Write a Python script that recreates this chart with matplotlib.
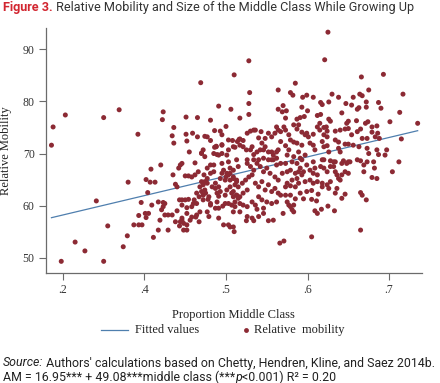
import matplotlib
matplotlib.use("Agg")
import matplotlib.pyplot as plt
from matplotlib.lines import Line2D

# --- data ---
mid_class = [
    # sparse left side
    0.286, 0.288, 0.303, 0.350, 0.369, 0.392, 0.298, 0.315, 0.327, 0.341, 0.350, 0.355, 0.374, 0.379, 0.380,
    # x .38-.46
    0.387, 0.393, 0.397, 0.393, 0.396, 0.401, 0.405, 0.402, 0.404, 0.402, 0.407, 0.413, 0.408, 0.411, 0.409,
    0.417, 0.419, 0.420, 0.421, 0.423, 0.425, 0.425, 0.429, 0.434, 0.429, 0.435, 0.438, 0.440, 0.438, 0.444,
    0.440, 0.442, 0.444, 0.446, 0.443, 0.446, 0.450, 0.454, 0.443, 0.446, 0.448, 0.450, 0.454, 0.452, 0.452,
    0.452, 0.455, 0.417, 0.423, 0.446, 0.446, 0.448, 0.456, 0.452,
    # upper left group
    0.422, 0.423, 0.436, 0.434, 0.436, 0.451, 0.451, 0.452, 0.459, 0.465, 0.465, 0.469, 0.470, 0.474, 0.477,
    0.481, 0.481, 0.486, 0.486, 0.488, 0.491, 0.489, 0.493, 0.495, 0.495, 0.500, 0.506, 0.510, 0.503, 0.508,
    0.511, 0.516, 0.503, 0.517,
    # x .45-.52
    0.458, 0.463, 0.458, 0.462, 0.460, 0.464, 0.461, 0.464, 0.462, 0.466, 0.468, 0.470, 0.474, 0.472, 0.477,
    0.470, 0.474, 0.472, 0.475, 0.470, 0.472, 0.474, 0.472, 0.478, 0.481, 0.479, 0.477, 0.481, 0.485, 0.481,
    0.485, 0.483, 0.487, 0.487, 0.485, 0.488, 0.491, 0.489, 0.491, 0.493, 0.491, 0.495, 0.495, 0.497, 0.499,
    0.501, 0.496, 0.499, 0.497, 0.501, 0.503, 0.501, 0.505, 0.507, 0.509, 0.513, 0.511, 0.515, 0.505, 0.509,
    0.510, 0.509, 0.505, 0.509, 0.513, 0.509, 0.514, 0.513, 0.515,
    0.467, 0.458, 0.464, 0.467, 0.468, 0.479, 0.481, 0.477, 0.473, 0.487, 0.491, 0.491, 0.489, 0.503, 0.499,
    0.503, 0.507, 0.511, 0.509, 0.513, 0.500, 0.503, 0.505, 0.509, 0.513, 0.511, 0.515, 0.493, 0.495, 0.495,
    0.505, 0.509, 0.477,
    # x .52-.57
    0.528, 0.564, 0.529, 0.528, 0.528, 0.564,
    0.517, 0.521, 0.526, 0.530, 0.534, 0.536, 0.540, 0.543, 0.548, 0.552, 0.556, 0.560, 0.564, 0.562,
    0.517, 0.521, 0.525, 0.530, 0.532, 0.534, 0.538, 0.542, 0.546, 0.544, 0.548, 0.552, 0.556, 0.558, 0.562,
    0.564, 0.562,
    0.526, 0.534, 0.540, 0.546, 0.552, 0.556,
    0.517, 0.521, 0.526, 0.532, 0.536, 0.517, 0.526, 0.532, 0.540, 0.546, 0.525, 0.534, 0.552, 0.558,
    0.517, 0.521, 0.526, 0.520, 0.524, 0.528, 0.532,
    0.526, 0.530, 0.534, 0.538, 0.542, 0.546, 0.550,
    0.536, 0.540, 0.544, 0.548, 0.552, 0.556, 0.560, 0.564,
    0.540, 0.544, 0.550, 0.556, 0.562,
    0.558, 0.562, 0.554, 0.560, 0.564,
    0.546, 0.538, 0.566,
    # x .57-.74, upper part
    0.625, 0.621, 0.666, 0.693, 0.585, 0.675, 0.717, 0.579, 0.582, 0.594, 0.599, 0.607, 0.630, 0.638, 0.616,
    0.618, 0.626, 0.647, 0.654, 0.656, 0.664, 0.667, 0.672, 0.663, 0.661, 0.672, 0.687, 0.690, 0.713,
    0.570, 0.574, 0.569, 0.593, 0.600,
    0.573, 0.587, 0.591, 0.596, 0.612, 0.616, 0.626, 0.628, 0.642, 0.650, 0.648, 0.660, 0.671, 0.674, 0.679,
    0.685, 0.701, 0.735,
    0.571, 0.573, 0.567, 0.583, 0.589, 0.587, 0.577, 0.579, 0.583, 0.593, 0.597, 0.599, 0.601, 0.607, 0.612,
    0.615, 0.615, 0.620, 0.623, 0.624, 0.620, 0.624, 0.634, 0.640, 0.646, 0.650, 0.654, 0.661, 0.665, 0.667,
    0.673, 0.679, 0.683, 0.686, 0.688, 0.715,
    0.567, 0.573, 0.577, 0.587, 0.593, 0.589, 0.603, 0.607, 0.609, 0.618, 0.620, 0.624, 0.626, 0.634, 0.638,
    0.638, 0.640, 0.646, 0.650, 0.656, 0.663, 0.673, 0.675, 0.685, 0.687, 0.697, 0.712, 0.695,
    0.575, 0.583, 0.591, 0.597, 0.618, 0.628, 0.632, 0.644, 0.650, 0.665, 0.673, 0.681,
    # x .57-.74, lower part
    0.665, 0.571, 0.605, 0.704, 0.669, 0.669, 0.679, 0.685, 0.682, 0.665, 0.667, 0.672, 0.642, 0.646, 0.634,
    0.636, 0.633, 0.625, 0.617, 0.609, 0.612, 0.611, 0.605, 0.595, 0.585, 0.570, 0.575, 0.577, 0.579, 0.583,
    0.581, 0.583, 0.591, 0.599, 0.605, 0.613, 0.567, 0.573, 0.579, 0.573, 0.579, 0.585, 0.618, 0.618, 0.624,
    0.626, 0.628, 0.607, 0.612, 0.603, 0.597, 0.575, 0.581, 0.587, 0.589,
    0.569, 0.575, 0.579, 0.585, 0.589, 0.591, 0.595, 0.593,
    0.567, 0.573, 0.581, 0.587, 0.593,
    0.603, 0.607, 0.612, 0.609, 0.616, 0.620, 0.624, 0.628, 0.632, 0.634, 0.636, 0.638, 0.642, 0.646, 0.650,
    0.640, 0.642, 0.648, 0.652, 0.634, 0.620, 0.607, 0.599, 0.661,
]
rel_mob = [
    71.6, 75.1, 77.4, 76.9, 78.4, 73.7, 49.3, 53.0, 51.3, 60.9, 49.3, 56.1, 52.1, 54.2, 64.5,
    56.3, 56.3, 56.3, 58.1, 60.6, 58.5, 58.5, 57.7, 62.5, 65.0, 64.5, 64.5, 67.0, 53.9, 60.1,
    55.3, 57.2, 67.8, 59.2, 59.8, 60.4, 58.2, 58.2, 58.2, 55.3, 65.9, 64.1, 63.6, 56.9, 56.9,
    59.0, 67.2, 67.8, 68.1, 61.1, 61.1, 61.1, 61.2, 56.1, 57.6, 55.3, 65.7, 65.7, 58.5, 59.6,
    56.3, 70.3, 60.7, 60.6, 60.1, 57.2, 56.6, 57.2, 55.3,
    76.5, 78.0, 75.0, 73.4, 72.0, 77.0, 73.7, 72.4, 73.9, 76.9, 73.2, 83.6, 70.1, 73.3, 73.2,
    72.5, 76.4, 74.4, 71.2, 71.4, 79.1, 69.8, 74.3, 73.6, 71.7, 75.2, 78.5, 85.1, 72.6, 72.5,
    71.2, 72.7, 70.7, 76.8,
    57.8, 57.8, 65.5, 65.9, 60.4, 60.4, 61.1, 62.4, 68.2, 66.5, 58.8, 64.6, 64.6, 64.0, 64.3,
    62.7, 63.0, 62.0, 62.4, 70.0, 70.7, 69.4, 61.1, 61.2, 60.4, 57.9, 67.2, 67.8, 67.8, 66.2,
    66.5, 63.6, 64.3, 59.5, 70.0, 71.3, 69.7, 62.4, 61.8, 62.7, 57.6, 71.6, 70.0, 66.8, 64.9,
    66.2, 59.9, 60.4, 56.3, 69.7, 68.4, 63.0, 63.6, 62.4, 61.7, 62.0, 60.7, 61.4, 55.9, 55.9,
    55.0, 58.8, 66.2, 65.5, 64.9, 71.3, 72.3, 68.8, 67.5,
    61.7, 59.8, 58.2, 56.9, 63.6, 61.7, 60.1, 65.2, 65.9, 63.3, 63.6, 59.5, 60.7, 56.3, 62.0,
    60.4, 60.1, 59.8, 62.7, 62.0, 65.5, 65.9, 64.9, 65.2, 64.6, 64.0, 63.6, 65.2, 66.2, 68.1,
    67.2, 66.8, 58.8,
    87.8, 82.2, 81.7, 79.6, 77.5, 78.5,
    72.8, 72.5, 73.9, 74.3, 74.5, 74.5, 73.0, 74.2, 72.9, 73.9, 73.2, 73.9, 74.5, 75.1,
    71.6, 71.3, 70.7, 70.7, 71.3, 69.8, 70.3, 70.7, 70.7, 72.0, 71.3, 70.3, 70.3, 69.7, 70.3,
    70.7, 69.1,
    68.8, 68.8, 68.8, 69.1, 68.8, 68.8,
    60.4, 60.1, 59.8, 60.7, 60.1, 58.8, 57.9, 57.6, 57.9, 58.5, 57.1, 57.1, 57.1, 57.2,
    61.7, 62.4, 63.0, 64.3, 64.9, 65.5, 65.9,
    68.1, 67.5, 66.8, 68.1, 67.5, 66.5, 67.2,
    64.3, 63.6, 64.6, 63.0, 64.0, 62.7, 63.3, 62.4,
    61.7, 61.1, 60.7, 60.4, 60.7,
    68.8, 67.8, 66.2, 65.5, 64.9,
    59.5, 59.3, 52.8,
    93.3, 88.0, 84.7, 85.2, 83.5, 82.2, 81.4, 81.7, 81.2, 80.8, 81.2, 80.8, 81.4, 80.8, 79.8,
    79.4, 79.9, 79.6, 79.3, 80.8, 81.4, 81.1, 79.9, 78.8, 78.5, 78.9, 79.8, 78.7, 77.9,
    79.2, 78.2, 78.0, 78.9, 78.2,
    76.8, 76.6, 76.9, 77.1, 77.3, 77.5, 76.6, 76.2, 77.8, 76.2, 75.8, 76.3, 75.8, 76.1, 75.1,
    75.3, 76.1, 75.8,
    75.1, 74.5, 74.2, 75.5, 75.5, 74.7, 73.6, 72.6, 72.2, 74.1, 73.6, 73.9, 73.2, 73.7, 75.1,
    74.5, 75.8, 75.0, 75.1, 74.3, 73.6, 73.2, 74.3, 74.5, 74.7, 74.8, 73.6, 74.2, 74.7, 72.9,
    72.9, 74.1, 73.2, 73.9, 72.9, 72.8,
    72.3, 71.5, 70.7, 72.0, 71.6, 70.3, 72.0, 71.6, 70.7, 72.3, 71.3, 71.5, 70.3, 72.6, 72.2,
    71.0, 70.3, 71.8, 71.8, 71.6, 71.3, 71.0, 70.0, 70.7, 69.8, 70.7, 68.4, 69.7,
    69.7, 69.4, 69.1, 69.7, 68.8, 68.6, 68.4, 68.6, 68.4, 68.6, 68.4, 68.4,
    55.3, 53.2, 54.0, 66.5, 66.5, 67.8, 65.4, 65.2, 67.2, 62.5, 62.0, 61.1, 61.4, 62.2, 62.4,
    63.3, 59.0, 59.9, 59.3, 59.0, 58.5, 60.9, 61.2, 61.3, 61.3, 58.5, 60.7, 60.1, 59.8, 60.1,
    59.2, 58.8, 62.4, 62.7, 62.9, 62.2, 62.0, 62.0, 62.0, 63.6, 63.8, 63.6, 63.6, 64.3, 64.0,
    63.3, 64.6, 64.3, 64.6, 64.9, 64.6, 64.3, 64.9, 65.2, 64.3,
    66.2, 66.5, 66.8, 66.2, 66.5, 67.2, 66.5, 65.9,
    68.1, 68.1, 68.4, 68.1, 68.8,
    66.8, 66.2, 65.9, 67.2, 67.5, 67.2, 66.5, 67.5, 67.5, 66.5, 65.9, 65.2, 65.9, 66.5, 66.2,
    64.9, 68.1, 68.1, 68.4, 68.4, 68.8, 68.4, 67.8, 68.8,
]

# fitted line as drawn
fit_intercept = 47.04
fit_slope = 37.2

x_ticks = [0.3, 0.4, 0.5, 0.6, 0.7]
x_tick_labels = ['.2', '.4', '.5', '.6', '.7']
y_ticks = [50, 60, 70, 80, 90]

DOT = '#8c2a34'
LINE = '#4f7fae'
AXC = '#6b6b6b'
TXT = '#222222'
SERIF = 'Liberation Serif'
SANS = 'Roboto'

fig = plt.figure(figsize=(4.4, 3.83), dpi=100)
ax = fig.add_axes([0.104, 0.2864, 0.8545, 0.6405])

x0, x1 = min(mid_class), max(mid_class)
ax.plot([x0, x1], [fit_intercept + fit_slope * x0, fit_intercept + fit_slope * x1],
        color=LINE, lw=0.9, zorder=2)
ax.scatter(mid_class, rel_mob, s=13, color=DOT, edgecolors='none', zorder=3)

ax.set_xlim(0.279, 0.740)
ax.set_ylim(47.0, 94.1)
ax.set_xticks(x_ticks)
ax.set_xticklabels(x_tick_labels)
ax.set_yticks(y_ticks)

for s in ['top', 'right']:
    ax.spines[s].set_visible(False)
for s in ['left', 'bottom']:
    ax.spines[s].set_color(AXC)
    ax.spines[s].set_linewidth(0.9)
ax.tick_params(direction='out', length=5, width=0.8, color=AXC, labelcolor='#333333',
               labelsize=8.5, pad=3)
for lab in ax.get_xticklabels() + ax.get_yticklabels():
    lab.set_family(SERIF)

ax.set_xlabel('Proportion Middle Class', family=SERIF, fontsize=9, color=TXT, labelpad=9)
ax.set_ylabel('Relative Mobility', family=SERIF, fontsize=9, color=TXT, va='center')
ax.yaxis.set_label_coords(-0.106, 0.5)

# legend below the plot (drawn by hand to match spacing)
ly = 1 - 330 / 383
fig.add_artist(Line2D([101 / 440, 128 / 440], [ly, ly], color=LINE, lw=0.9,
                      transform=fig.transFigure))
fig.text(135 / 440, ly, 'Fitted values', family=SERIF, fontsize=9, color=TXT, va='center')
fig.add_artist(Line2D([246 / 440], [ly], color=DOT, marker='o', ls='none', markersize=3.5,
                      markeredgewidth=0, transform=fig.transFigure))
fig.text(254 / 440, ly, 'Relative  mobility', family=SERIF, fontsize=9, color=TXT, va='center')

# title
t1 = fig.text(0.007, 1 - 7 / 383, 'Figure 3.', family=SANS, fontweight='bold',
              color='#d22630', fontsize=9.1, va='center')
ax.annotate(' Relative Mobility and Size of the Middle Class While Growing Up',
            xy=(1, 0), xycoords=t1, va='bottom', ha='left',
            family=SANS, color='#333333', fontsize=9.1, annotation_clip=False)

# source notes
FS = 8.9
s1 = fig.text(0.007, 1 - 363 / 383, 'Source:', family=SANS, style='italic',
              color=TXT, fontsize=FS, va='center')
ax.annotate(" Authors' calculations based on Chetty, Hendren, Kline, and Saez 2014b.",
            xy=(1, 0), xycoords=s1, va='bottom', ha='left',
            family=SANS, color=TXT, fontsize=FS, annotation_clip=False)
a1 = fig.text(0.007, 1 - 377 / 383, 'AM = 16.95*** + 49.08***middle class (***',
              family=SANS, color=TXT, fontsize=FS, va='center')
a2 = ax.annotate('p', xy=(1, 0), xycoords=a1, va='bottom', ha='left', family=SANS,
                 style='italic', color=TXT, fontsize=FS, annotation_clip=False)
ax.annotate('<0.001) R\u00b2 = 0.20', xy=(1, 0), xycoords=a2, va='bottom', ha='left',
            family=SANS, color=TXT, fontsize=FS, annotation_clip=False)

fig.savefig('out.png', dpi=100)
